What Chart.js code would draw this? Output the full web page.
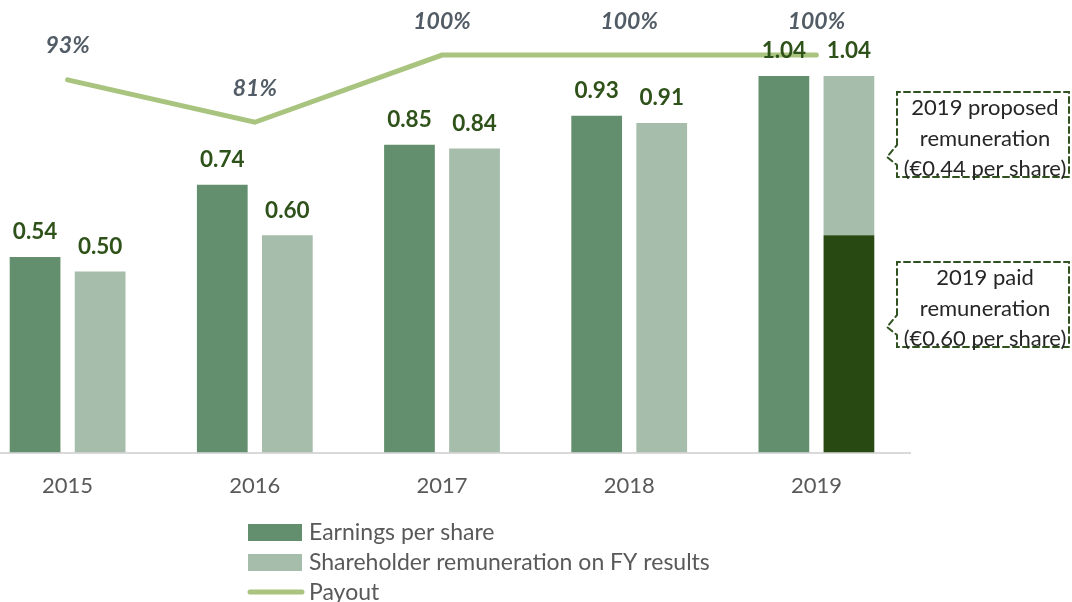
<!DOCTYPE html>
<html lang="en">
<head>
    <meta charset="UTF-8">
    <title>Earnings per share and payout</title>
    <script src="https://cdn.jsdelivr.net/npm/chart.js"></script>
    <style>
        body { margin: 0; background: #fff; overflow: hidden; }
        #wrap { position: absolute; left: -26px; top: 0; width: 1098px; height: 602px; }
    </style>
</head>
<body>
    <div id="wrap"><canvas id="epsChart" width="1098" height="602"></canvas></div>

    <script>
        const years = ['2015', '2016', '2017', '2018', '2019'];
        const earningsPerShare = [0.54, 0.74, 0.85, 0.93, 1.04];
        const remuneration = [0.50, 0.60, 0.84, 0.91, 1.04];
        const paidRemuneration = [null, null, null, null, 0.60];
        const payout = [93, 81, 100, 100, 100];
        const payoutLabels = ['93%', '81%', '100%', '100%', '100%'];

        // top part of the remuneration bar (the 2019 bar is split in paid + proposed)
        const remunerationTop = remuneration.map((v, i) => +(v - (paidRemuneration[i] || 0)).toFixed(2));

        const FONT = 'Lato, "Open Sans", sans-serif';
        const OFFSET_X = 26; // canvas is shifted left by this many px

        const labelPlugin = {
            id: 'labels',
            afterDatasetsDraw(chart) {
                const ctx = chart.ctx;
                const y = chart.scales.y;
                const epsMeta = chart.getDatasetMeta(0);
                const remMeta = chart.getDatasetMeta(2);
                const lineMeta = chart.getDatasetMeta(3);
                ctx.save();
                ctx.textAlign = 'center';
                ctx.textBaseline = 'middle';

                // percentages above the payout line
                ctx.font = 'italic bold 23px ' + FONT;
                ctx.fillStyle = '#525c66';
                lineMeta.data.forEach((pt, i) => {
                    ctx.fillText(payoutLabels[i], pt.x, pt.y - 34);
                });

                // bar values
                ctx.font = 'bold 22.5px ' + FONT;
                ctx.fillStyle = '#2e5219';
                epsMeta.data.forEach((bar, i) => {
                    ctx.fillText(earningsPerShare[i].toFixed(2), bar.x, y.getPixelForValue(earningsPerShare[i]) - 25);
                });
                remMeta.data.forEach((bar, i) => {
                    ctx.fillText(remuneration[i].toFixed(2), bar.x, y.getPixelForValue(remuneration[i]) - 25);
                });
                ctx.restore();
            },
            afterDraw(chart) {
                const ctx = chart.ctx;
                ctx.save();
                ctx.translate(OFFSET_X, 0);

                // legend
                const items = [
                    { text: 'Earnings per share', color: '#638f6f', type: 'box', y: 532 },
                    { text: 'Shareholder remuneration on FY results', color: '#a5bdaa', type: 'box', y: 562 },
                    { text: 'Payout', color: '#a9c47f', type: 'line', y: 592 }
                ];
                ctx.font = '23px ' + FONT;
                ctx.textBaseline = 'middle';
                ctx.textAlign = 'left';
                items.forEach(it => {
                    if (it.type === 'box') {
                        ctx.fillStyle = it.color;
                        ctx.fillRect(248, it.y - 8, 54, 17);
                    } else {
                        ctx.strokeStyle = it.color;
                        ctx.lineWidth = 5;
                        ctx.lineCap = 'round';
                        ctx.beginPath();
                        ctx.moveTo(250, it.y);
                        ctx.lineTo(302, it.y);
                        ctx.stroke();
                    }
                    ctx.fillStyle = '#595959';
                    ctx.fillText(it.text, 309, it.y + 1);
                });

                // dashed callouts
                const callouts = [
                    { top: 92, bottom: 177, tip: 157, lines: ['2019 proposed', 'remuneration', '(\u20ac0.44 per share)'] },
                    { top: 262, bottom: 347, tip: 327, lines: ['2019 paid', 'remuneration', '(\u20ac0.60 per share)'] }
                ];
                callouts.forEach(c => {
                    ctx.strokeStyle = '#2f5220';
                    ctx.lineWidth = 2;
                    ctx.setLineDash([6, 4]);
                    ctx.beginPath();
                    ctx.moveTo(897, c.tip - 12);
                    ctx.lineTo(897, c.top);
                    ctx.lineTo(1069, c.top);
                    ctx.lineTo(1069, c.bottom);
                    ctx.lineTo(897, c.bottom);
                    ctx.lineTo(897, c.tip + 8);
                    ctx.lineTo(887, c.tip);
                    ctx.lineTo(897, c.tip - 12);
                    ctx.stroke();
                    ctx.setLineDash([]);
                    ctx.fillStyle = '#262626';
                    ctx.textAlign = 'center';
                    ctx.font = '22px ' + FONT;
                    c.lines.forEach((t, k) => {
                        ctx.fillText(t, 985, c.top + 16 + k * 30.5);
                    });
                });
                ctx.restore();
            }
        };

        const ctx = document.getElementById('epsChart').getContext('2d');
        new Chart(ctx, {
            data: {
                labels: years,
                datasets: [
                    {
                        type: 'bar',
                        label: 'Earnings per share',
                        data: earningsPerShare,
                        backgroundColor: '#638f6f',
                        stack: 'eps',
                        yAxisID: 'y',
                        order: 2
                    },
                    {
                        type: 'bar',
                        label: '2019 paid remuneration',
                        data: paidRemuneration,
                        backgroundColor: '#284a12',
                        stack: 'rem',
                        yAxisID: 'y',
                        order: 2
                    },
                    {
                        type: 'bar',
                        label: 'Shareholder remuneration on FY results',
                        data: remunerationTop,
                        backgroundColor: '#a5bdaa',
                        stack: 'rem',
                        yAxisID: 'y',
                        order: 2
                    },
                    {
                        type: 'line',
                        label: 'Payout',
                        data: payout,
                        borderColor: '#a9c47f',
                        borderWidth: 5,
                        borderCapStyle: 'round',
                        pointRadius: 0,
                        tension: 0,
                        yAxisID: 'y1',
                        order: 1
                    }
                ]
            },
            options: {
                responsive: false,
                animation: false,
                layout: { padding: { top: 0, bottom: 83, left: 0, right: 162 } },
                datasets: {
                    bar: { categoryPercentage: 0.695, barPercentage: 0.78 }
                },
                plugins: {
                    legend: { display: false },
                    tooltip: { enabled: false }
                },
                scales: {
                    x: {
                        stacked: true,
                        grid: { display: false, drawTicks: false },
                        border: { color: '#d9d9d9', width: 2 },
                        ticks: { color: '#595959', font: { family: FONT, size: 22 }, padding: 20 }
                    },
                    y: {
                        stacked: true,
                        display: false,
                        min: 0,
                        max: 1.25
                    },
                    y1: {
                        display: false,
                        min: -12.5,
                        max: 115.6
                    }
                }
            },
            plugins: [labelPlugin]
        });
    </script>
</body>
</html>
